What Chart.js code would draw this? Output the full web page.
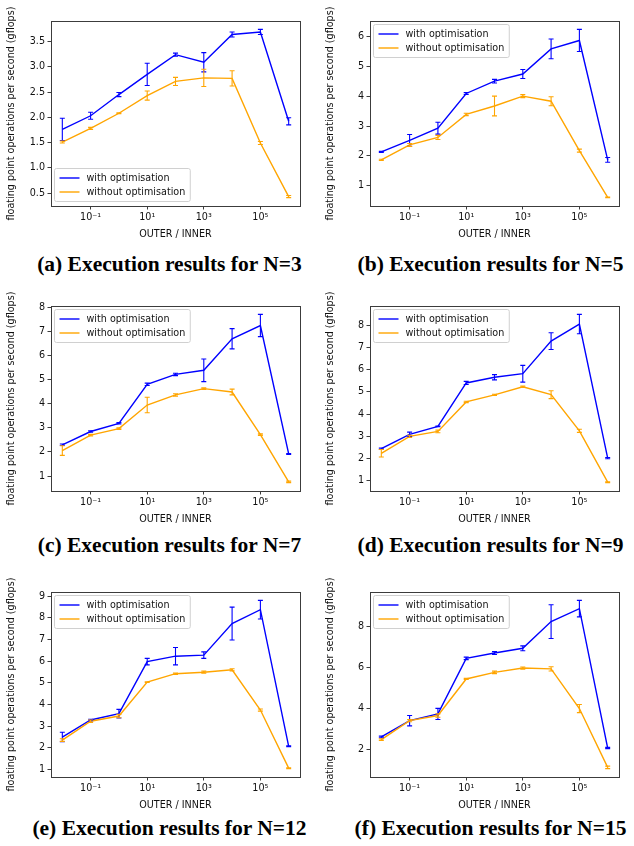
<!DOCTYPE html>
<html>
<head>
<meta charset="utf-8">
<script src="https://cdn.jsdelivr.net/npm/chart.js@4"></script>
<style>
body { margin: 0; background: #fff; width: 634px; height: 846px; position: relative; overflow: hidden; }
canvas { position: absolute; }
.cap { position: absolute; width: 317px; text-align: center; font: bold 21.5px "Liberation Serif", serif; line-height: 22px; color: #000; white-space: nowrap; }
</style>
</head>
<body>
<canvas id="c0" width="317" height="240" style="left:0;top:0"></canvas>
<canvas id="c1" width="317" height="240" style="left:319px;top:0"></canvas>
<canvas id="c2" width="317" height="240" style="left:0;top:285px"></canvas>
<canvas id="c3" width="317" height="240" style="left:319px;top:285px"></canvas>
<canvas id="c4" width="317" height="240" style="left:0;top:571px"></canvas>
<canvas id="c5" width="317" height="240" style="left:319px;top:571px"></canvas>
<div class="cap" style="left:11px;top:253px">(a) Execution results for N=3</div>
<div class="cap" style="left:332px;top:253px">(b) Execution results for N=5</div>
<div class="cap" style="left:11px;top:534px">(c) Execution results for N=7</div>
<div class="cap" style="left:332px;top:534px">(d) Execution results for N=9</div>
<div class="cap" style="left:11px;top:817px">(e) Execution results for N=12</div>
<div class="cap" style="left:332px;top:817px">(f) Execution results for N=15</div>
<script>
// OUTER / INNER ratios
const xValues = [1e-2, 1e-1, 1, 1e1, 1e2, 1e3, 1e4, 1e5, 1e6];
const xTicks = [1e-1, 1e1, 1e3, 1e5];
const xTickLabels = ['10⁻¹', '10¹', '10³', '10⁵'];

// N=3
const withOpt3 = [1.76, 2.03, 2.45, 2.85, 3.24, 3.09, 3.64, 3.69, 1.92];
const withOptErr3 = [0.22, 0.07, 0.04, 0.22, 0.03, 0.19, 0.05, 0.05, 0.07];
const withoutOpt3 = [1.51, 1.78, 2.08, 2.43, 2.71, 2.78, 2.77, 1.49, 0.43];
const withoutOptErr3 = [0.02, 0.02, 0.01, 0.09, 0.08, 0.17, 0.15, 0.03, 0.02];
const yTicks3 = [0.5, 1.0, 1.5, 2.0, 2.5, 3.0, 3.5];

// N=5
const withOpt5 = [2.14, 2.52, 2.93, 4.09, 4.50, 4.74, 5.58, 5.86, 1.87];
const withOptErr5 = [0.02, 0.2, 0.2, 0.03, 0.06, 0.15, 0.33, 0.37, 0.08];
const withoutOpt5 = [1.87, 2.37, 2.62, 3.39, 3.67, 4.00, 3.83, 2.18, 0.62];
const withoutOptErr5 = [0.02, 0.05, 0.07, 0.04, 0.33, 0.05, 0.15, 0.05, 0.01];
const yTicks5 = [1, 2, 3, 4, 5, 6];

// N=7
const withOpt7 = [2.30, 2.85, 3.19, 4.81, 5.22, 5.39, 6.70, 7.25, 1.92];
const withOptErr7 = [0.03, 0.03, 0.03, 0.05, 0.05, 0.47, 0.42, 0.46, 0.02];
const withoutOpt7 = [2.06, 2.70, 2.97, 3.95, 4.37, 4.63, 4.49, 2.72, 0.76];
const withoutOptErr7 = [0.2, 0.03, 0.03, 0.32, 0.05, 0.03, 0.12, 0.03, 0.03];
const yTicks7 = [1, 2, 3, 4, 5, 6, 7, 8];

// N=9
const withOpt9 = [2.43, 3.08, 3.44, 5.41, 5.67, 5.83, 7.31, 8.08, 2.00];
const withOptErr9 = [0.03, 0.1, 0.02, 0.07, 0.12, 0.38, 0.38, 0.44, 0.03];
const withoutOpt9 = [2.22, 2.99, 3.21, 4.55, 4.87, 5.24, 4.88, 3.24, 0.91];
const withoutOptErr9 = [0.17, 0.05, 0.06, 0.03, 0.03, 0.03, 0.18, 0.07, 0.02];
const yTicks9 = [1, 2, 3, 4, 5, 6, 7, 8];

// N=12
const withOpt12 = [2.49, 3.28, 3.57, 5.98, 6.23, 6.28, 7.74, 8.38, 2.06];
const withOptErr12 = [0.22, 0.03, 0.2, 0.15, 0.4, 0.15, 0.76, 0.43, 0.02];
const withoutOpt12 = [2.35, 3.22, 3.46, 5.03, 5.42, 5.49, 5.60, 3.74, 1.05];
const withoutOptErr12 = [0.06, 0.06, 0.08, 0.02, 0.03, 0.05, 0.05, 0.05, 0.02];
const yTicks12 = [1, 2, 3, 4, 5, 6, 7, 8, 9];

// N=15
const withOpt15 = [2.62, 3.41, 3.74, 6.44, 6.70, 6.93, 8.23, 8.86, 2.08];
const withOptErr15 = [0.04, 0.25, 0.27, 0.06, 0.07, 0.12, 0.82, 0.4, 0.03];
const withoutOpt15 = [2.49, 3.41, 3.66, 5.44, 5.76, 5.97, 5.93, 4.00, 1.14];
const withoutOptErr15 = [0.04, 0.05, 0.08, 0.03, 0.06, 0.05, 0.1, 0.2, 0.06];
const yTicks15 = [2, 4, 6, 8];

const panels = [
    { id: 'c0', w: withOpt3, we: withOptErr3, wo: withoutOpt3, woe: withoutOptErr3, ticks: yTicks3, dec: 1, loc: 'lower left' },
    { id: 'c1', w: withOpt5, we: withOptErr5, wo: withoutOpt5, woe: withoutOptErr5, ticks: yTicks5, dec: 0, loc: 'upper left' },
    { id: 'c2', w: withOpt7, we: withOptErr7, wo: withoutOpt7, woe: withoutOptErr7, ticks: yTicks7, dec: 0, loc: 'upper left' },
    { id: 'c3', w: withOpt9, we: withOptErr9, wo: withoutOpt9, woe: withoutOptErr9, ticks: yTicks9, dec: 0, loc: 'upper left' },
    { id: 'c4', w: withOpt12, we: withOptErr12, wo: withoutOpt12, woe: withoutOptErr12, ticks: yTicks12, dec: 0, loc: 'upper left' },
    { id: 'c5', w: withOpt15, we: withOptErr15, wo: withoutOpt15, woe: withoutOptErr15, ticks: yTicks15, dec: 0, loc: 'upper left' }
];

const FONT_SIZE = 9.6;
const FONT = FONT_SIZE + 'px "DejaVu Sans"';
const AXIS_COLOR = '#3c3c3c';
Chart.defaults.font.family = '"DejaVu Sans"';
Chart.defaults.font.size = FONT_SIZE;
Chart.defaults.color = '#111';

// vertical error bars with caps
const errorBars = {
    id: 'errorBars',
    afterDatasetsDraw(chart) {
        const ctx = chart.ctx, xs = chart.scales.x, ys = chart.scales.y;
        ctx.save();
        ctx.beginPath();
        ctx.rect(chart.chartArea.left, chart.chartArea.top, chart.chartArea.width, chart.chartArea.height);
        ctx.clip();
        chart.data.datasets.forEach(ds => {
            ctx.strokeStyle = ds.borderColor;
            ctx.lineWidth = 1.1;
            ds.data.forEach((p, i) => {
                const e = ds.errors[i];
                const px = xs.getPixelForValue(p.x);
                const y1 = ys.getPixelForValue(p.y + e);
                const y2 = ys.getPixelForValue(p.y - e);
                ctx.beginPath();
                ctx.moveTo(px, y1); ctx.lineTo(px, y2);
                ctx.moveTo(px - 2.5, y1); ctx.lineTo(px + 2.5, y1);
                ctx.moveTo(px - 2.5, y2); ctx.lineTo(px + 2.5, y2);
                ctx.stroke();
            });
        });
        ctx.restore();
    }
};

// axes frame + matplotlib style legend box
const frameLegend = {
    id: 'frameLegend',
    afterDraw(chart, args, opts) {
        const ctx = chart.ctx, a = chart.chartArea;
        ctx.save();
        ctx.strokeStyle = AXIS_COLOR;
        ctx.lineWidth = 1;
        ctx.strokeRect(Math.round(a.left) + 0.5, Math.round(a.top) + 0.5, Math.round(a.width), Math.round(a.height));

        ctx.font = FONT;
        const labels = chart.data.datasets.map(d => d.label);
        const tw = Math.max(...labels.map(l => ctx.measureText(l).width));
        const w = 32 + tw + 5, h = 33;
        const x = Math.round(a.left) + 3.5;
        const y = opts.loc === 'lower left' ? Math.round(a.bottom) - 4.5 - h : Math.round(a.top) + 3.5;
        ctx.beginPath();
        ctx.roundRect(x, y, w, h, 2);
        ctx.fillStyle = 'rgba(255,255,255,0.8)';
        ctx.fill();
        ctx.strokeStyle = '#d0d0d0';
        ctx.stroke();
        chart.data.datasets.forEach((d, i) => {
            const ly = y + 9.5 + 14 * i;
            ctx.strokeStyle = d.borderColor;
            ctx.lineWidth = 1.4;
            ctx.beginPath();
            ctx.moveTo(x + 5, ly); ctx.lineTo(x + 25, ly);
            ctx.stroke();
            ctx.fillStyle = '#111';
            ctx.textBaseline = 'middle';
            ctx.fillText(d.label, x + 32, ly + 0.5);
        });
        ctx.restore();
    }
};

function yRange(p) {
    const lo = Math.min(...p.w.map((v, i) => v - p.we[i]), ...p.wo.map((v, i) => v - p.woe[i]));
    const hi = Math.max(...p.w.map((v, i) => v + p.we[i]), ...p.wo.map((v, i) => v + p.woe[i]));
    const pad = (hi - lo) * 0.05;
    return [lo - pad, hi + pad];
}

panels.forEach(p => {
    const [ymin, ymax] = yRange(p);
    new Chart(document.getElementById(p.id), {
        type: 'line',
        data: {
            datasets: [{
                label: 'with optimisation',
                data: xValues.map((x, i) => ({ x: x, y: p.w[i] })),
                errors: p.we,
                borderColor: '#0000ff',
                borderWidth: 1.4,
                pointRadius: 0,
                tension: 0,
                order: 1
            }, {
                label: 'without optimisation',
                data: xValues.map((x, i) => ({ x: x, y: p.wo[i] })),
                errors: p.woe,
                borderColor: '#ffa500',
                borderWidth: 1.4,
                pointRadius: 0,
                tension: 0,
                order: 0
            }]
        },
        options: {
            responsive: false,
            animation: false,
            layout: { padding: { left: 0, right: 17, top: 21, bottom: 0 } },
            plugins: {
                legend: { display: false },
                tooltip: { enabled: false },
                frameLegend: { loc: p.loc }
            },
            scales: {
                x: {
                    type: 'logarithmic',
                    min: Math.pow(10, -2.4),
                    max: Math.pow(10, 6.4),
                    afterBuildTicks: s => { s.ticks = xTicks.map(v => ({ value: v })); },
                    afterFit: s => { s.height = 34; },
                    ticks: { callback: (v, i) => xTickLabels[i], maxRotation: 0, autoSkip: false, padding: 2 },
                    grid: { display: true, drawOnChartArea: false, drawTicks: true, tickLength: 3.5, color: AXIS_COLOR },
                    border: { display: false },
                    title: { display: true, text: 'OUTER / INNER', padding: { top: 5.2, bottom: 0 } }
                },
                y: {
                    min: ymin,
                    max: ymax,
                    afterBuildTicks: s => { s.ticks = p.ticks.map(v => ({ value: v })); },
                    afterFit: s => { s.width = 51; },
                    ticks: { callback: v => v.toFixed(p.dec), padding: 2.5 },
                    grid: { display: true, drawOnChartArea: false, drawTicks: true, tickLength: 3.5, color: AXIS_COLOR },
                    border: { display: false },
                    title: { display: true, text: 'floating point operations per second (gflops)', padding: { top: 6.2, bottom: 0 } }
                }
            }
        },
        plugins: [errorBars, frameLegend]
    });
});
</script>
</body>
</html>
